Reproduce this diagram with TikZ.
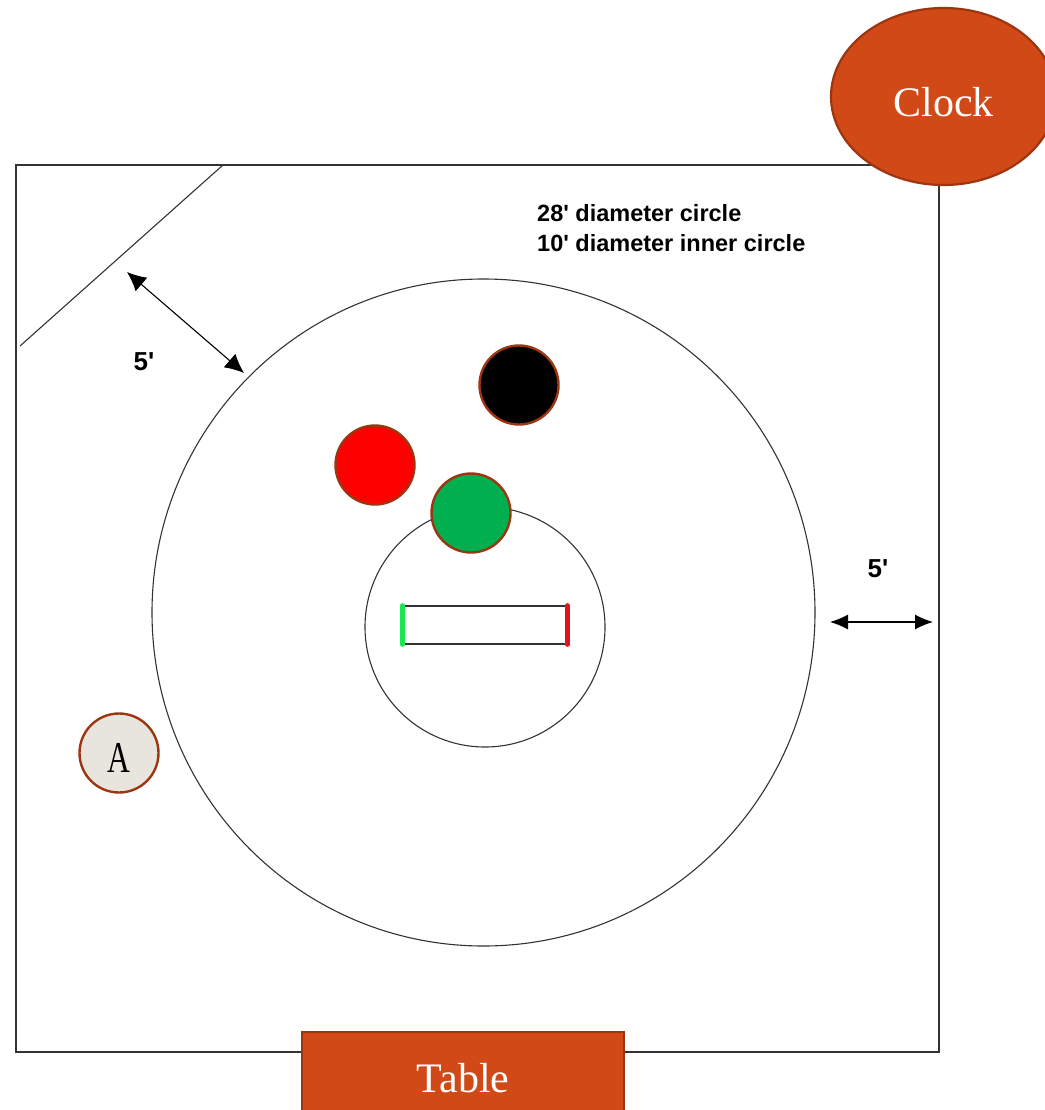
\documentclass[tikz,border=0pt]{standalone}
\usepackage{fontspec}
\setmainfont{Liberation Serif}
\newfontfamily\labelfont{Liberation Sans}
\usetikzlibrary{shapes.geometric,arrows.meta}
\definecolor{rust}{HTML}{D14916}
\definecolor{rustdark}{HTML}{9E3511}
\definecolor{paper}{HTML}{E8E5DE}
\definecolor{linegrey}{HTML}{333333}
\tikzset{
  plan/.style={draw=linegrey,line width=1.1pt},
  token/.style={circle,draw=rustdark,line width=2.4pt,minimum size=79pt,inner sep=0pt},
  orange/.style={draw=rustdark,line width=2.2pt,fill=rust,text=white,inner sep=0pt,font=\fontsize{42}{42}\selectfont},
  note/.style={inner sep=0pt,font=\labelfont\bfseries\fontsize{23.5}{30}\selectfont},
  span/.style={line width=1.1pt,{Latex[length=19pt,width=18pt]}-{Latex[length=19pt,width=18pt]}},
  endbar/.style={line width=4.5pt,line cap=round}
}
\begin{document}
\begin{tikzpicture}[x=1pt,y=-1pt]
\useasboundingbox (0,0) rectangle (1044,1110);
\fill[white] (0,0) rectangle (1044,1110);
\node[plan,rectangle,minimum width=923pt,minimum height=887pt,inner sep=0pt] (room) at (477.5,608.5) {};
\coordinate (wallA) at (223,165);
\coordinate (wallB) at (20,346);
\draw[plan] (wallA) -- (wallB);
\node[plan,ellipse,minimum width=663pt,minimum height=667pt,inner sep=0pt] (outer) at (483.5,612.5) {};
\node[plan,circle,minimum size=240pt,inner sep=0pt] (inner) at (485,627) {};
\node[plan,rectangle,minimum width=164pt,minimum height=38pt,inner sep=0pt] (bar) at (485,625) {};
\draw[endbar,draw={rgb,255:red,30;green,230;blue,80}] (bar.north west) -- (bar.south west);
\draw[endbar,draw={rgb,255:red,225;green,20;blue,25}] (bar.north east) -- (bar.south east);
\node[token,fill=black] (blackdot) at (519,385) {};
\node[token,fill=red] (reddot) at (375,465) {};
\node[token,fill={rgb,255:red,0;green,175;blue,80}] (greendot) at (471,513) {};
\node[token,fill=paper,font=\fontsize{44}{44}\selectfont] (adot) at (119,753) {\raisebox{-4.5pt}[\height][0pt]{\scalebox{0.72}[1]{A}}};
\coordinate (d1) at (127,272);
\coordinate (d2) at (244,373);
\draw[span] (d1) -- (d2);
\coordinate (h1) at (830,622);
\coordinate (h2) at (933,622);
\draw[span,{Latex[length=18pt,width=15pt]}-{Latex[length=18pt,width=15pt]}] (h1) -- (h2);
\node[note,font=\labelfont\bfseries\fontsize{26}{30}\selectfont] (fiveA) at (144,362) {5'};
\node[note,font=\labelfont\bfseries\fontsize{26}{30}\selectfont] (fiveB) at (878,569) {5'};
\node[note,anchor=north west,align=left] (caption) at (537,204) {28' diameter circle\\10' diameter inner circle};
\node[orange,ellipse,minimum width=225pt,minimum height=177pt] (clock) at (943.5,96.5) {\raisebox{-5.5pt}[\height][0pt]{Clock}};
\node[orange,rectangle,minimum width=322pt,minimum height=93pt] (table) at (463,1078.5) {Table};
\end{tikzpicture}
\end{document}
